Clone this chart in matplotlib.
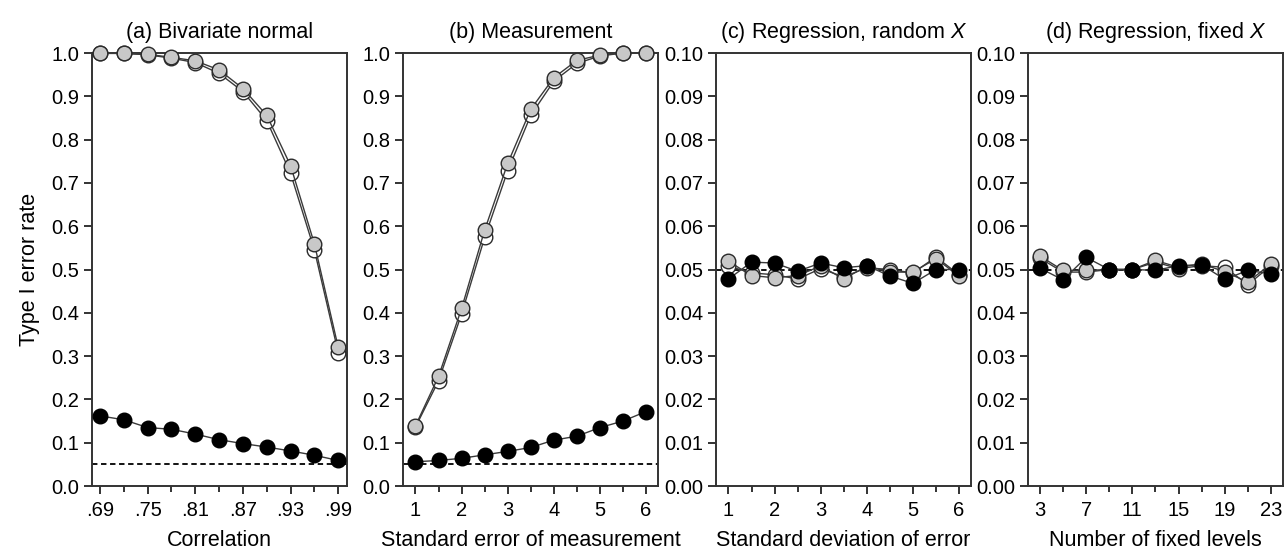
import numpy as np
import matplotlib
matplotlib.use('Agg')
import matplotlib.pyplot as plt
from matplotlib.ticker import FixedLocator, FormatStrFormatter

plt.rcParams['font.family'] = ['Liberation Sans', 'DejaVu Sans']
plt.rcParams['mathtext.fontset'] = 'custom'
plt.rcParams['mathtext.rm'] = 'Liberation Sans'
plt.rcParams['mathtext.it'] = 'Liberation Sans:italic'

# (a) Bivariate normal
corr = [.69, .72, .75, .78, .81, .84, .87, .90, .93, .96, .99]
a_white = [1.0, 0.999, 0.996, 0.988, 0.978, 0.953, 0.911, 0.844, 0.722, 0.545, 0.308]
a_grey = [0.999, 0.999, 0.997, 0.990, 0.982, 0.961, 0.918, 0.856, 0.740, 0.559, 0.320]
a_black = [0.162, 0.153, 0.135, 0.131, 0.120, 0.107, 0.098, 0.090, 0.081, 0.071, 0.059]

# (b) Measurement
sem = [1, 1.5, 2, 2.5, 3, 3.5, 4, 4.5, 5, 5.5, 6]
b_white = [0.136, 0.243, 0.397, 0.574, 0.728, 0.856, 0.935, 0.976, 0.993, 1.0, 1.0]
b_grey = [0.139, 0.253, 0.410, 0.591, 0.745, 0.870, 0.943, 0.983, 0.995, 1.0, 1.0]
b_black = [0.056, 0.059, 0.064, 0.072, 0.080, 0.089, 0.106, 0.115, 0.135, 0.150, 0.172]

# (c) Regression, random X
sd_err = [1, 1.5, 2, 2.5, 3, 3.5, 4, 4.5, 5, 5.5, 6]
c_white = [0.0508, 0.0492, 0.0488, 0.0478, 0.0502, 0.0483, 0.0504, 0.0500, 0.0492, 0.0529, 0.0488]
c_grey = [0.0519, 0.0486, 0.0481, 0.0486, 0.0508, 0.0478, 0.0508, 0.0494, 0.0494, 0.0525, 0.0485]
c_black = [0.0478, 0.0517, 0.0515, 0.0496, 0.0515, 0.0504, 0.0509, 0.0485, 0.0468, 0.0500, 0.0500]

# (d) Regression, fixed X
levels = [3, 5, 7, 9, 11, 13, 15, 17, 19, 21, 23]
d_white = [0.0526, 0.0494, 0.0494, 0.0500, 0.0500, 0.0517, 0.0502, 0.0509, 0.0505, 0.0465, 0.0509]
d_grey = [0.0531, 0.0498, 0.0498, 0.0500, 0.0500, 0.0521, 0.0505, 0.0513, 0.0495, 0.0471, 0.0513]
d_black = [0.0503, 0.0476, 0.0528, 0.0500, 0.0500, 0.0498, 0.0509, 0.0511, 0.0477, 0.0498, 0.0490]

nominal = 0.05

titles = ['(a) Bivariate normal', '(b) Measurement',
          '(c) Regression, random $\\mathit{X}$', '(d) Regression, fixed $\\mathit{X}$']
xlabels = ['Correlation', 'Standard error of measurement',
           'Standard deviation of error', 'Number of fixed levels']

fig = plt.figure(figsize=(12.88, 5.55), dpi=100)
lefts = [0.0714, 0.3129, 0.5559, 0.7981]
axes = [fig.add_axes([l, 0.1243, 0.198, 0.7802]) for l in lefts]

edge = '#2a2a2a'
line_c = '#3a3a3a'

def plot_series(ax, x, white, grey, black):
    ax.plot(x, white, '-o', color=line_c, lw=1, ms=10.5, mfc='white', mec=edge, mew=1, zorder=3, clip_on=False)
    ax.plot(x, grey, '-o', color=line_c, lw=1, ms=10.5, mfc='#c8c8c8', mec=edge, mew=1, zorder=4, clip_on=False)
    ax.plot(x, black, '-o', color=line_c, lw=1, ms=10.5, mfc='black', mec='black', mew=1, zorder=5, clip_on=False)

plot_series(axes[0], corr, a_white, a_grey, a_black)
plot_series(axes[1], sem, b_white, b_grey, b_black)
plot_series(axes[2], sd_err, c_white, c_grey, c_black)
plot_series(axes[3], levels, d_white, d_grey, d_black)

# x axes
axes[0].set_xlim(0.68, 1.001)
axes[0].xaxis.set_major_locator(FixedLocator([.69, .75, .81, .87, .93, .99]))
axes[0].xaxis.set_minor_locator(FixedLocator([.72, .78, .84, .90, .96]))
axes[0].set_xticklabels(['.69', '.75', '.81', '.87', '.93', '.99'])

for ax in axes[1:3]:
    ax.set_xlim(0.73, 6.26)
    ax.xaxis.set_major_locator(FixedLocator([1, 2, 3, 4, 5, 6]))
    ax.xaxis.set_minor_locator(FixedLocator([1.5, 2.5, 3.5, 4.5, 5.5]))

axes[3].set_xlim(1.96, 24.04)
axes[3].xaxis.set_major_locator(FixedLocator([3, 7, 11, 15, 19, 23]))
axes[3].xaxis.set_minor_locator(FixedLocator([5, 9, 13, 17, 21]))

# y axes
for ax in axes[:2]:
    ax.set_ylim(0, 1.0)
    ax.set_yticks(np.arange(0, 1.01, 0.1))
    ax.yaxis.set_major_formatter(FormatStrFormatter('%.1f'))
for ax in axes[2:]:
    ax.set_ylim(0, 0.10)
    ax.set_yticks(np.arange(0, 0.101, 0.01))
    ax.yaxis.set_major_formatter(FormatStrFormatter('%.2f'))

for i, ax in enumerate(axes):
    ax.axhline(nominal, color='black', lw=1.3, ls=(0, (3, 2)), zorder=2)
    ax.set_title(titles[i], fontsize=15.5, pad=11)
    ax.set_xlabel(xlabels[i], fontsize=15.5, labelpad=7)
    ax.tick_params(axis='both', which='major', direction='out', length=6, width=1.4,
                   labelsize=14.5, color='#333333')
    ax.tick_params(axis='x', which='major', pad=5)
    ax.tick_params(axis='y', which='major', pad=3)
    ax.tick_params(axis='x', which='minor', direction='out', length=4, width=1.4, color='#333333')
    for s in ax.spines.values():
        s.set_linewidth(1.4)
        s.set_color('#333333')

axes[0].set_ylabel('Type I error rate', fontsize=15.5, labelpad=8)

fig.savefig('out.png', dpi=100)
